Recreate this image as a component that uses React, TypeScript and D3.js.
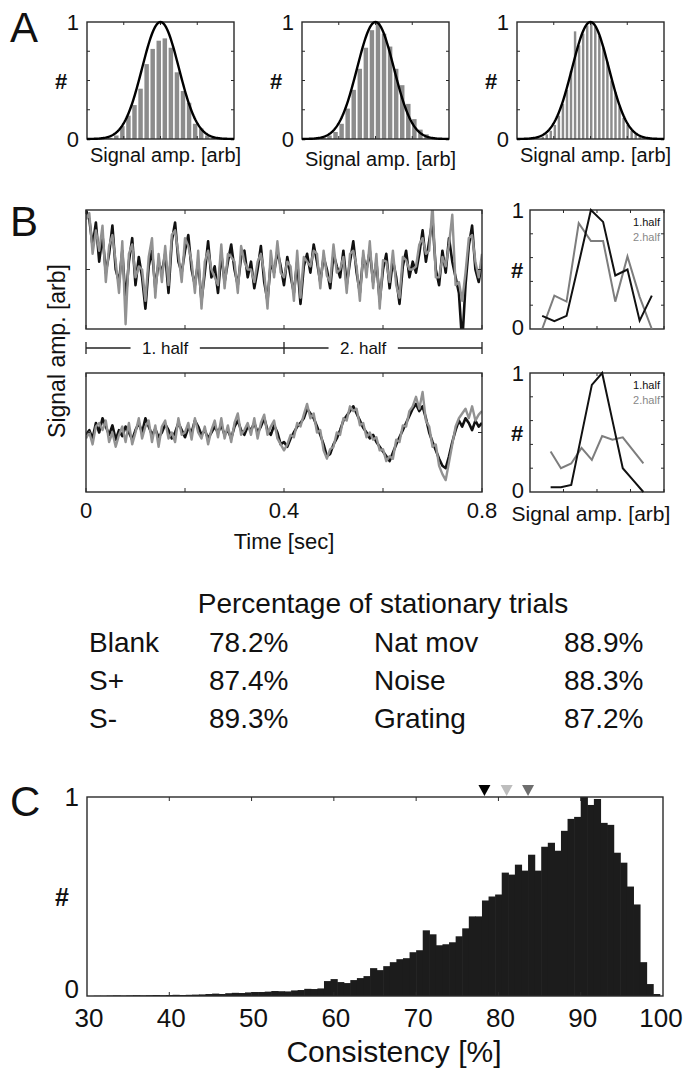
import React from 'react';
import * as d3 from 'd3';

const FONT = '"Liberation Sans", Arial, Helvetica, sans-serif';

// ---------------- Panel A data ----------------
const aBinStart = [-2.9, -3.0, -2.71];
const aBinWidth = [0.33, 0.33, 0.22];
const aHist1 = [0.01, 0.03, 0.11, 0.2, 0.29, 0.43, 0.64, 0.77, 0.84, 0.86, 0.78, 0.57, 0.41, 0.31, 0.13, 0.09, 0.03, 0.01];
const aHist2 = [0.01, 0.03, 0.06, 0.13, 0.26, 0.42, 0.6, 0.78, 0.93, 1.0, 0.9, 0.79, 0.6, 0.46, 0.3, 0.17, 0.08, 0.04, 0.01];
const aHist3 = [0.02, 0.04, 0.07, 0.12, 0.2, 0.3, 0.42, 0.58, 0.92, 0.8, 0.9, 0.97, 1.0, 0.96, 0.88, 0.78, 0.66, 0.5, 0.4, 0.28, 0.18, 0.12, 0.07, 0.04, 0.02];
const aFitMean = [0, 0, 0];
const aFitSigma = [1, 1, 1];
const aDomain = [-4, 4];

// ---------------- Panel B data ----------------
const bUpperBlack = [
  0.88, 0.82, 0.65, 0.80, 0.55, 0.72, 0.48, 0.60, 0.78, 0.50,
  0.42, 0.62, 0.30, 0.55, 0.70, 0.40, 0.58, 0.45, 0.25, 0.52,
  0.62, 0.38, 0.55, 0.48, 0.60, 0.35, 0.68, 0.80, 0.55, 0.48,
  0.62, 0.72, 0.50, 0.40, 0.55, 0.30, 0.48, 0.68, 0.45, 0.52,
  0.35, 0.60, 0.42, 0.55, 0.66, 0.50, 0.40, 0.58, 0.62, 0.45,
  0.55, 0.38, 0.50, 0.65, 0.42, 0.30, 0.55, 0.48, 0.62, 0.52,
  0.40, 0.58, 0.46, 0.35, 0.55, 0.28, 0.52, 0.60, 0.48, 0.66,
  0.55, 0.42, 0.58, 0.50, 0.38, 0.60, 0.52, 0.45, 0.62, 0.40,
  0.55, 0.68, 0.48, 0.35, 0.58, 0.50, 0.62, 0.42, 0.55, 0.30,
  0.50, 0.60, 0.38, 0.56, 0.45, 0.28, 0.52, 0.62, 0.45, 0.55,
  0.48, 0.60, 0.75, 0.55, 0.68, 0.82, 0.50, 0.40, 0.62, 0.48,
  0.70, 0.55, 0.45, 0.35, 0.03, 0.40, 0.65, 0.78, 0.50, 0.42, 0.55,
];
const bUpperGray = [
  0.82, 0.86, 0.60, 0.75, 0.62, 0.78, 0.42, 0.65, 0.72, 0.55,
  0.35, 0.68, 0.15, 0.60, 0.66, 0.45, 0.52, 0.50, 0.30, 0.58,
  0.70, 0.32, 0.60, 0.42, 0.65, 0.40, 0.72, 0.75, 0.60, 0.42,
  0.70, 0.65, 0.55, 0.35, 0.62, 0.25, 0.55, 0.62, 0.50, 0.45,
  0.40, 0.66, 0.38, 0.60, 0.58, 0.55, 0.35, 0.65, 0.55, 0.50,
  0.50, 0.42, 0.55, 0.60, 0.48, 0.25, 0.62, 0.45, 0.68, 0.48,
  0.45, 0.55, 0.52, 0.30, 0.62, 0.32, 0.58, 0.55, 0.52, 0.62,
  0.60, 0.38, 0.62, 0.46, 0.42, 0.66, 0.48, 0.50, 0.58, 0.35,
  0.60, 0.62, 0.52, 0.30, 0.62, 0.45, 0.68, 0.38, 0.60, 0.25,
  0.56, 0.55, 0.42, 0.62, 0.40, 0.32, 0.58, 0.56, 0.50, 0.50,
  0.52, 0.66, 0.70, 0.60, 0.62, 0.92, 0.45, 0.45, 0.58, 0.52,
  0.66, 0.85, 0.40, 0.42, 0.30, 0.48, 0.70, 0.72, 0.55, 0.45, 0.60,
];
const bLowerBlack = [
  0.48, 0.52, 0.45, 0.58, 0.50, 0.62, 0.55, 0.48, 0.56, 0.44,
  0.52, 0.47, 0.55, 0.50, 0.44, 0.52, 0.58, 0.50, 0.62, 0.55,
  0.48, 0.53, 0.46, 0.50, 0.57, 0.52, 0.45, 0.50, 0.58, 0.52,
  0.46, 0.54, 0.50, 0.60, 0.55, 0.48, 0.52, 0.45, 0.50, 0.55,
  0.50, 0.56, 0.48, 0.52, 0.45, 0.55, 0.60, 0.52, 0.48, 0.55,
  0.52, 0.58, 0.50, 0.55, 0.62, 0.52, 0.48, 0.56, 0.50, 0.40,
  0.42, 0.38, 0.45, 0.50, 0.55, 0.58, 0.62, 0.70, 0.66, 0.62,
  0.55, 0.48, 0.40, 0.30, 0.32, 0.40, 0.45, 0.52, 0.60, 0.64,
  0.68, 0.72, 0.66, 0.60, 0.54, 0.50, 0.45, 0.48, 0.42, 0.38,
  0.34, 0.30, 0.26, 0.33, 0.40, 0.46, 0.52, 0.58, 0.64, 0.70,
  0.74, 0.68, 0.72, 0.62, 0.50, 0.42, 0.35, 0.28, 0.22, 0.20,
  0.30, 0.42, 0.52, 0.60, 0.55, 0.62, 0.58, 0.52, 0.60, 0.55, 0.58,
];
const bLowerGray = [
  0.45, 0.50, 0.40, 0.55, 0.58, 0.52, 0.60, 0.42, 0.50, 0.38,
  0.48, 0.55, 0.42, 0.58, 0.40, 0.50, 0.62, 0.45, 0.55, 0.60,
  0.42, 0.56, 0.38, 0.55, 0.60, 0.45, 0.50, 0.42, 0.62, 0.48,
  0.50, 0.58, 0.44, 0.62, 0.50, 0.45, 0.55, 0.40, 0.52, 0.60,
  0.46, 0.62, 0.45, 0.56, 0.42, 0.58, 0.66, 0.48, 0.52, 0.58,
  0.48, 0.62, 0.45, 0.58, 0.65, 0.48, 0.55, 0.60, 0.45, 0.40,
  0.35, 0.40, 0.48, 0.46, 0.58, 0.55, 0.65, 0.74, 0.62, 0.66,
  0.50, 0.52, 0.35, 0.28, 0.36, 0.38, 0.50, 0.48, 0.62, 0.60,
  0.72, 0.68, 0.70, 0.56, 0.58, 0.46, 0.50, 0.44, 0.46, 0.35,
  0.36, 0.26, 0.30, 0.28, 0.44, 0.42, 0.56, 0.55, 0.68, 0.72,
  0.80, 0.70, 0.84, 0.60, 0.55, 0.38, 0.40, 0.22, 0.15, 0.10,
  0.25, 0.40, 0.55, 0.62, 0.66, 0.70, 0.62, 0.72, 0.60, 0.65, 0.68,
];
const bUpperDomain = [0.12, 0.88];
const bLowerDomain = [0, 1];
const bTimeTicks = [0, 0.2, 0.4, 0.6, 0.8];
const bTimeLabels = ['0', '0.4', '0.8'];

// B distributions (1st half black, 2nd half gray)
const bHistBins = [1, 2, 3, 4, 5, 6, 7, 8, 9, 10];
const bUpperHist1 = [0.11, 0.065, 0.11, 0.55, 1.0, 0.9, 0.45, 0.5, 0.07, 0.28];
const bUpperHist2 = [0.0, 0.28, 0.23, 0.89, 0.74, 0.74, 0.23, 0.61, 0.27, 0.0];
const bLowerHist1 = [0.04, 0.04, 0.06, 0.48, 0.9, 1.0, 0.6, 0.2, 0.1, 0.0];
const bLowerHist2 = [0.34, 0.2, 0.24, 0.37, 0.27, 0.47, 0.44, 0.46, 0.35, 0.24];

// ---------------- Table ----------------
const tableLeftNames = ['Blank', 'S+', 'S-'];
const tableLeftValues = ['78.2%', '87.4%', '89.3%'];
const tableRightNames = ['Nat mov', 'Noise', 'Grating'];
const tableRightValues = ['88.9%', '88.3%', '87.2%'];

// ---------------- Panel C data ----------------
const cBinStart = 30;
const cBinWidth = 0.8;
const cHist = [
  0, 0.001, 0.001, 0.002, 0.003, 0.002, 0.003, 0.004, 0.003, 0.004,
  0.005, 0.004, 0.005, 0.006, 0.005, 0.006, 0.007, 0.008, 0.010,
  0.012, 0.010, 0.014, 0.016, 0.015, 0.018, 0.020,
  0.020, 0.022, 0.025, 0.024, 0.023, 0.028, 0.030, 0.036, 0.035, 0.038,
  0.075, 0.085, 0.07, 0.065, 0.08, 0.09, 0.10,
  0.14, 0.13, 0.15, 0.17, 0.185, 0.19, 0.22,
  0.23, 0.33, 0.31, 0.255, 0.26, 0.27, 0.30,
  0.34, 0.40, 0.40, 0.48, 0.50, 0.51,
  0.62, 0.61, 0.66, 0.63, 0.71, 0.63, 0.75,
  0.77, 0.73, 0.83, 0.89, 0.90,
  1.0,
  0.96, 0.99, 0.87, 0.86, 0.72, 0.67, 0.55, 0.46, 0.17, 0.06, 0.01, 0,
];
const cTicks = [30, 40, 50, 60, 70, 80, 90, 100];
const cMarkers = [78.3, 81.0, 83.6];
const cMarkerColors = ['#000000', '#bdbdbd', '#6e6e6e'];

const STROKE = '#2a2a2a';

function Frame({ x0, x1, y0, y1, xt = [] as number[], yt = [] as number[], t = 4 }) {
  return (
    <g>
      {xt.map((x, i) => (
        <g key={'x' + i}>
          <line x1={x} x2={x} y1={y1} y2={y1 - t} stroke={STROKE} strokeWidth={1} />
          <line x1={x} x2={x} y1={y0} y2={y0 + t} stroke={STROKE} strokeWidth={1} />
        </g>
      ))}
      {yt.map((y, i) => (
        <g key={'y' + i}>
          <line x1={x0} x2={x0 + t} y1={y} y2={y} stroke={STROKE} strokeWidth={1} />
          <line x1={x1} x2={x1 - t} y1={y} y2={y} stroke={STROKE} strokeWidth={1} />
        </g>
      ))}
      <rect x={x0} y={y0} width={x1 - x0} height={y1 - y0} fill="none" stroke={STROKE} strokeWidth={1.4} />
    </g>
  );
}

function PanelA({ idx, x0, x1 }: { idx: number; x0: number; x1: number }) {
  const y0 = 22, y1 = 139;
  const hist = [aHist1, aHist2, aHist3][idx];
  const xs = d3.scaleLinear().domain(aDomain).range([x0, x1]);
  const ys = d3.scaleLinear().domain([0, 1]).range([y1, y0]);
  const bw = aBinWidth[idx];
  const bs = aBinStart[idx];
  const curveX = d3.range(aDomain[0], aDomain[1] + 0.001, 0.05);
  const mu = aFitMean[idx], sg = aFitSigma[idx];
  const line = d3.line<number>()
    .x((d) => xs(d))
    .y((d) => ys(Math.exp(-((d - mu) ** 2) / (2 * sg * sg))));
  const pw = xs(bw) - xs(0);
  return (
    <g>
      {hist.map((v, i) => (
        <rect key={i} x={xs(bs + i * bw) + 0.8} width={Math.max(pw - 1.6, 1)} y={ys(v)} height={y1 - ys(v)} fill="#8c8c8c" />
      ))}
      <Frame x0={x0} x1={x1} y0={y0} y1={y1} xt={[-2, 0, 2].map(xs)} yt={[0.25, 0.5, 0.75].map(ys)} t={3} />
      <path d={line(curveX) || ''} fill="none" stroke="#000" strokeWidth={2.4} />
      <text x={x0 - 8} y={y0 + 8} textAnchor="end" fontSize={22}>1</text>
      <text x={x0 - 8} y={y1 + 8} textAnchor="end" fontSize={22}>0</text>
      <text x={x0 - 26} y={(y0 + y1) / 2 + 8} textAnchor="middle" fontSize={22} fontWeight="bold">#</text>
      <text x={(x0 + x1) / 2 + 5} y={162 + (idx === 1 ? 4 : 0)} textAnchor="middle" fontSize={20}>Signal amp. [arb]</text>
    </g>
  );
}

function TimeSeries({ y0, y1, black, gray, domain }: { y0: number; y1: number; black: number[]; gray: number[]; domain: number[] }) {
  const x0 = 86, x1 = 482;
  const xs = d3.scaleLinear().domain([0, 0.8]).range([x0, x1]);
  const ys = d3.scaleLinear().domain(domain).range([y1, y0]);
  const n = black.length;
  const t = d3.range(n).map((i) => (i * 0.8) / (n - 1));
  const line = d3.line<number>().x((_, i) => xs(t[i])).y((d) => ys(d));
  return (
    <g>
      <defs>
        <clipPath id={'clip' + y0}>
          <rect x={x0} y={y0} width={x1 - x0} height={y1 - y0} />
        </clipPath>
      </defs>
      <g clipPath={`url(#clip${y0})`}>
        <path d={line(black) || ''} fill="none" stroke="#111" strokeWidth={2.6} strokeLinejoin="round" />
        <path d={line(gray) || ''} fill="none" stroke="#929292" strokeWidth={2.4} strokeLinejoin="round" />
      </g>
      <Frame x0={x0} x1={x1} y0={y0} y1={y1} xt={bTimeTicks.map(xs)} yt={[ys((domain[0] + domain[1]) / 2)]} t={4} />
    </g>
  );
}

function DistPlot({ y0, y1, h1, h2, bottom }: { y0: number; y1: number; h1: number[]; h2: number[]; bottom: boolean }) {
  const x0 = 530, x1 = 664;
  const domain = bottom ? [-1, 12] : [0, 11];
  const xs = d3.scaleLinear().domain(domain).range([x0, x1]);
  const ys = d3.scaleLinear().domain([0, 1]).range([y1, y0]);
  const line = d3.line<number>().x((_, i) => xs(bHistBins[i])).y((d) => ys(d));
  const xt = d3.range(4).map((i) => x0 + ((i + 1) * (x1 - x0)) / 4 - 0.001);
  return (
    <g>
      <Frame x0={x0} x1={x1} y0={y0} y1={y1} xt={xt} yt={[0.2, 0.4, 0.6, 0.8].map(ys)} t={3} />
      <path d={line(h2) || ''} fill="none" stroke="#7d7d7d" strokeWidth={2} />
      <path d={line(h1) || ''} fill="none" stroke="#111" strokeWidth={2} />
      <text x={x1 - 4} y={y0 + 16} textAnchor="end" fontSize={11} fill="#111">1.half</text>
      <text x={x1 - 4} y={y0 + 31} textAnchor="end" fontSize={11} fill="#888">2.half</text>
      <text x={x0 - 6} y={y0 + 8} textAnchor="end" fontSize={22}>1</text>
      <text x={x0 - 6} y={y1 + 6} textAnchor="end" fontSize={22}>0</text>
      <text x={x0 - 13} y={(y0 + y1) / 2 + 8} textAnchor="middle" fontSize={22} fontWeight="bold">#</text>
    </g>
  );
}

function PanelC() {
  const x0 = 87, x1 = 663, y0 = 797, y1 = 996;
  const xs = d3.scaleLinear().domain([30, 100]).range([x0, x1]);
  const ys = d3.scaleLinear().domain([0, 1]).range([y1, y0]);
  const pw = xs(cBinWidth) - xs(0);
  return (
    <g>
      {cHist.map((v, i) => {
        const x = xs(cBinStart + i * cBinWidth);
        if (x >= x1 || v <= 0) return null;
        return <rect key={i} x={x} width={Math.min(pw + 0.6, x1 - x)} y={ys(v)} height={y1 - ys(v)} fill="#1c1c1c" />;
      })}
      <Frame x0={x0} x1={x1} y0={y0} y1={y1} xt={cTicks.slice(1, -1).map(xs)} yt={[]} t={4} />
      {cMarkers.map((m, i) => (
        <path key={i} d={`M${xs(m) - 6},${y0 - 12} L${xs(m) + 6},${y0 - 12} L${xs(m)},${y0 - 1} Z`} fill={cMarkerColors[i]} />
      ))}
      {cTicks.map((tk) => (
        <text key={tk} x={xs(tk) + (tk === 100 ? -2 : 2)} y={1027} textAnchor="middle" fontSize={26}>{tk}</text>
      ))}
      <text x={x0 - 8} y={y0 + 9} textAnchor="end" fontSize={26}>1</text>
      <text x={x0 - 8} y={y1 + 2} textAnchor="end" fontSize={26}>0</text>
      <text x={x0 - 25} y={(y0 + y1) / 2 + 9} textAnchor="middle" fontSize={25} fontWeight="bold">#</text>
      <text x={394} y={1062} textAnchor="middle" fontSize={30}>Consistency [%]</text>
      <text x={10} y={816} fontSize={42}>C</text>
    </g>
  );
}

export default function App() {
  const xs = d3.scaleLinear().domain([0, 0.8]).range([86, 482]);
  const halfY = 348;
  return (
    <svg width={683} height={1070} style={{ position: 'absolute', left: 0, top: 0, background: '#fff' }} fontFamily={FONT} fill="#111">
      <rect x={0} y={0} width={683} height={1070} fill="#fff" />
      {/* Panel A */}
      <text x={10} y={42} fontSize={42}>A</text>
      <PanelA idx={0} x0={87} x1={234} />
      <PanelA idx={1} x0={302} x1={449} />
      <PanelA idx={2} x0={517} x1={664} />

      {/* Panel B */}
      <text x={10} y={236} fontSize={42}>B</text>
      <TimeSeries y0={210} y1={329} black={bUpperBlack} gray={bUpperGray} domain={bUpperDomain} />
      <TimeSeries y0={373} y1={492} black={bLowerBlack} gray={bLowerGray} domain={bLowerDomain} />
      {/* halves bracket */}
      <g stroke="#222" strokeWidth={1.3}>
        <line x1={xs(0)} x2={xs(0.09)} y1={halfY} y2={halfY} />
        <line x1={xs(0.23)} x2={xs(0.49)} y1={halfY} y2={halfY} />
        <line x1={xs(0.63)} x2={xs(0.8)} y1={halfY} y2={halfY} />
        {[0, 0.4, 0.8].map((v) => (
          <line key={v} x1={xs(v)} x2={xs(v)} y1={halfY - 6} y2={halfY + 6} />
        ))}
      </g>
      <text x={xs(0.16)} y={halfY + 6} textAnchor="middle" fontSize={17}>1. half</text>
      <text x={xs(0.56)} y={halfY + 6} textAnchor="middle" fontSize={17}>2. half</text>
      {bTimeLabels.map((l) => (
        <text key={l} x={xs(+l)} y={518} textAnchor="middle" fontSize={22}>{l}</text>
      ))}
      <text x={284} y={549} textAnchor="middle" fontSize={22}>Time [sec]</text>
      <text transform="translate(65,351) rotate(-90)" textAnchor="middle" fontSize={23}>Signal amp. [arb]</text>
      <DistPlot y0={210} y1={329} h1={bUpperHist1} h2={bUpperHist2} bottom={false} />
      <DistPlot y0={373} y1={492} h1={bLowerHist1} h2={bLowerHist2} bottom={true} />
      <text x={591} y={521} textAnchor="middle" fontSize={21}>Signal amp. [arb]</text>

      {/* Table */}
      <text x={383} y={613} textAnchor="middle" fontSize={28}>Percentage of stationary trials</text>
      {tableLeftNames.map((n, i) => (
        <g key={n} fontSize={28}>
          <text x={89} y={652 + i * 38}>{n}</text>
          <text x={209} y={652 + i * 38}>{tableLeftValues[i]}</text>
          <text x={374} y={652 + i * 38}>{tableRightNames[i]}</text>
          <text x={564} y={652 + i * 38}>{tableRightValues[i]}</text>
        </g>
      ))}

      <PanelC />
    </svg>
  );
}
